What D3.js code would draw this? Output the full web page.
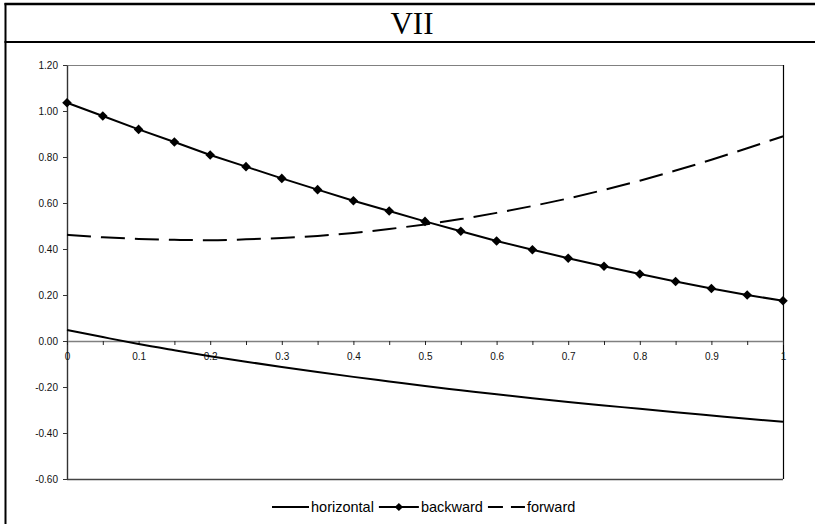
<!DOCTYPE html>
<html><head><meta charset="utf-8">
<script src="https://cdn.jsdelivr.net/npm/d3@7"></script>
<style>body{margin:0;background:#fff}svg{display:block}</style>
</head><body>
<svg id="c" width="815" height="524"></svg>
<script>
const title = "VII";
const xValues = [0,0.05,0.1,0.15,0.2,0.25,0.3,0.35,0.4,0.45,0.5,0.55,0.6,0.65,0.7,0.75,0.8,0.85,0.9,0.95,1];
const horizontal = [0.048,0.017,-0.013,-0.040,-0.066,-0.090,-0.113,-0.135,-0.156,-0.176,-0.196,-0.214,-0.232,-0.249,-0.265,-0.280,-0.295,-0.310,-0.324,-0.338,-0.351];
const backward = [1.036,0.978,0.920,0.865,0.809,0.758,0.707,0.658,0.610,0.565,0.520,0.477,0.435,0.397,0.360,0.325,0.291,0.259,0.228,0.200,0.175];
const forward = [0.462,0.451,0.444,0.440,0.438,0.442,0.448,0.457,0.470,0.487,0.507,0.530,0.557,0.587,0.620,0.657,0.697,0.741,0.788,0.838,0.890];
const yTicks = [1.2,1.0,0.8,0.6,0.4,0.2,0,-0.2,-0.4,-0.6];
const xTickLabels = ["0","0.1","0.2","0.3","0.4","0.5","0.6","0.7","0.8","0.9","1"];
const seriesNames = ["horizontal","backward","forward"];

const svg = d3.select("#c");
const sans = "'Liberation Sans', Arial, Helvetica, sans-serif";
const L = 67, R = 783, T = 65, B = 479;

// frame
svg.append("line").attr("x1",5.5).attr("x2",5.5).attr("y1",3).attr("y2",524).attr("stroke","#000").attr("stroke-width",2);
svg.append("line").attr("x1",4.5).attr("x2",815).attr("y1",4).attr("y2",4).attr("stroke","#000").attr("stroke-width",2.5);
svg.append("line").attr("x1",4.5).attr("x2",815).attr("y1",42).attr("y2",42).attr("stroke","#000").attr("stroke-width",2);
svg.append("text").attr("x",412).attr("y",34).attr("text-anchor","middle")
  .attr("font-family","'Liberation Serif','Times New Roman',serif").attr("font-size",31)
  .text(title);

const x = d3.scaleLinear().domain([0,1]).range([L,R]);
const y = d3.scaleLinear().domain([-0.6,1.2]).range([B,T]);

// plot border
svg.append("line").attr("x1",L).attr("x2",R).attr("y1",T+0.5).attr("y2",T+0.5).attr("stroke","#808080").attr("stroke-width",1.2);
svg.append("line").attr("x1",R+0.5).attr("x2",R+0.5).attr("y1",T).attr("y2",B).attr("stroke","#000").attr("stroke-width",1.2);
svg.append("line").attr("x1",L).attr("x2",R).attr("y1",B+0.5).attr("y2",B+0.5).attr("stroke","#444").attr("stroke-width",1.4);

// y axis
const yAxis = svg.append("g").attr("transform",`translate(${L},0)`)
  .call(d3.axisLeft(y).tickValues(yTicks).tickSize(4).tickSizeOuter(0).tickPadding(5).tickFormat(d=>d.toFixed(2)));
yAxis.select(".domain").attr("stroke","#333").attr("stroke-width",1.4);
yAxis.selectAll(".tick line").attr("stroke","#333");
yAxis.selectAll("text").attr("font-family",sans).attr("font-size",10).attr("fill","#111");

// x axis at zero
const xAxis = svg.append("g").attr("transform",`translate(0,${y(0)})`)
  .call(d3.axisBottom(x).tickValues(xValues).tickSize(4).tickSizeOuter(0).tickPadding(8)
    .tickFormat((d,i)=> i%2===0 ? xTickLabels[i/2] : ""));
xAxis.select(".domain").attr("stroke","#808080").attr("stroke-width",1.4);
xAxis.selectAll(".tick line").attr("stroke","#222");
xAxis.selectAll("text").attr("font-family",sans).attr("font-size",10).attr("fill","#111");

const lineLin = d3.line().x((d,i)=>x(xValues[i])).y(d=>y(d));
const lineSm = d3.line().x((d,i)=>x(xValues[i])).y(d=>y(d)).curve(d3.curveMonotoneX);

svg.append("path").datum(horizontal).attr("d",lineSm).attr("fill","none").attr("stroke","#000").attr("stroke-width",2);
svg.append("path").datum(forward).attr("d",lineSm).attr("fill","none").attr("stroke","#000").attr("stroke-width",2).attr("stroke-dasharray","24,10");
svg.append("path").datum(backward).attr("d",lineLin).attr("fill","none").attr("stroke","#000").attr("stroke-width",2);
const diamond = d3.symbol(d3.symbolSquare, 46);
svg.selectAll(".mk").data(backward).join("path").attr("class","mk")
  .attr("d",diamond).attr("fill","#000")
  .attr("transform",(d,i)=>`translate(${x(xValues[i])},${y(d)}) rotate(45)`);

// legend
const lg = svg.append("g").attr("transform","translate(0,507)");
let cx = 272;
seriesNames.forEach((name,k)=>{
  const sw = k===1 ? 40 : 37;
  const ln = lg.append("line").attr("x1",cx).attr("x2",cx+sw).attr("y1",0).attr("y2",0).attr("stroke","#000").attr("stroke-width",2);
  if (k===2) ln.attr("stroke-dasharray","15,8");
  if (k===1) lg.append("path").attr("d",d3.symbol(d3.symbolSquare,34)).attr("fill","#000").attr("transform",`translate(${cx+sw/2},0) rotate(45)`);
  const t = lg.append("text").attr("x",cx+sw+2).attr("y",0).attr("dy","0.35em")
    .attr("font-family",sans).attr("font-size",14.5).attr("fill","#000").text(name);
  cx = cx + sw + 2 + t.node().getComputedTextLength() + 5;
});
</script>
</body></html>
